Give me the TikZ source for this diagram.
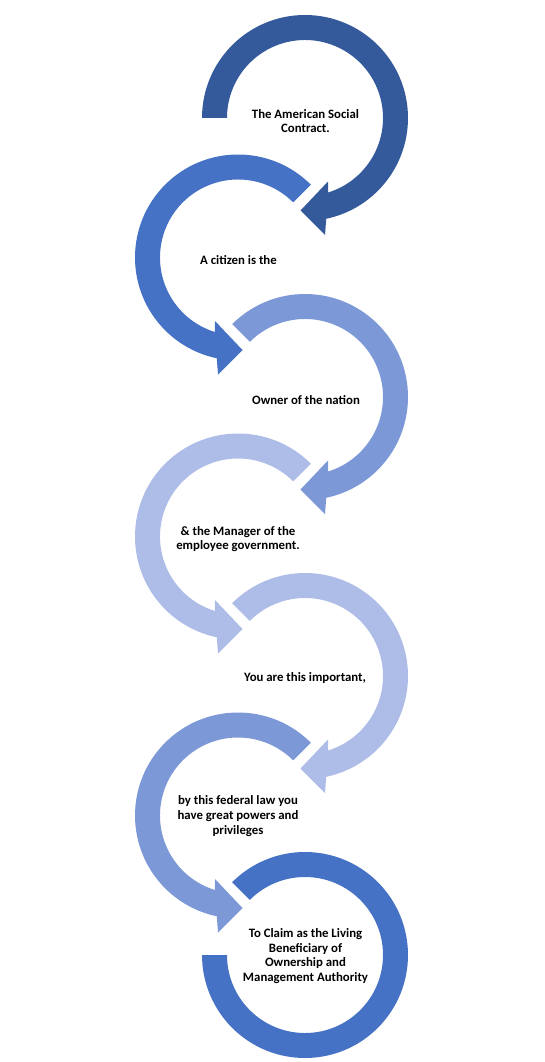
\documentclass[tikz,border=0pt]{standalone}
\usepackage{fontspec}
\setmainfont{Carlito}
\definecolor{ringA}{RGB}{53,90,155}
\definecolor{ringB}{RGB}{69,114,196}
\definecolor{ringC}{RGB}{124,152,214}
\definecolor{ringD}{RGB}{173,189,231}
\newcommand\cirArrowMid{(225:103) arc[start angle=225, end angle=438.1, radius=103] -- (20,117) -- (-4.5,92.5) -- (23,63.5) -- (432.8:78) arc[start angle=432.8, end angle=225, radius=78] -- cycle}
\newcommand\cirArrowFirst{(180:103) arc[start angle=180, end angle=438.1, radius=103] -- (20,117) -- (-4.5,92.5) -- (23,63.5) -- (432.8:78) arc[start angle=432.8, end angle=180, radius=78] -- cycle}
\newcommand\cirArrowLast{(225:103) arc[start angle=225, end angle=540, radius=103] -- (540:78) arc[start angle=540, end angle=225, radius=78] -- cycle}
\begin{document}
\begin{tikzpicture}[x=1pt,y=-1pt,
  lbl/.style={inner sep=0pt, align=center, font=\fontsize{12.8}{14.6}\selectfont\bfseries, text=black}]
\useasboundingbox (0,0) rectangle (544,1062);
% rings
\fill[ringA, shift={(305,118)}] \cirArrowFirst;
\fill[ringB, shift={(238,257.5)}, xscale=-1] \cirArrowMid;
\fill[ringC, shift={(305,397)}] \cirArrowMid;
\fill[ringD, shift={(238,536.5)}, xscale=-1] \cirArrowMid;
\fill[ringD, shift={(305,676)}] \cirArrowMid;
\fill[ringC, shift={(238,815.5)}, xscale=-1] \cirArrowMid;
\fill[ringB, shift={(305,955)}] \cirArrowLast;
% texts
\node[lbl] (t1) at (305.5,121) {The American Social\\Contract.};
\node[lbl] (t2) at (238.5,260) {A citizen is the};
\node[lbl] (t3) at (306,400) {Owner of the nation};
\node[lbl] (t4) at (238,539) {\& the Manager of the\\employee government.};
\node[lbl] (t5) at (305,678) {You are this important,};
\node[lbl] (t6) at (238,816) {by this federal law you\\have great powers and\\privileges};
\node[lbl] (t7) at (305.5,956) {To Claim as the Living\\Beneficiary of\\Ownership and\\Management Authority};
\end{tikzpicture}
\end{document}
